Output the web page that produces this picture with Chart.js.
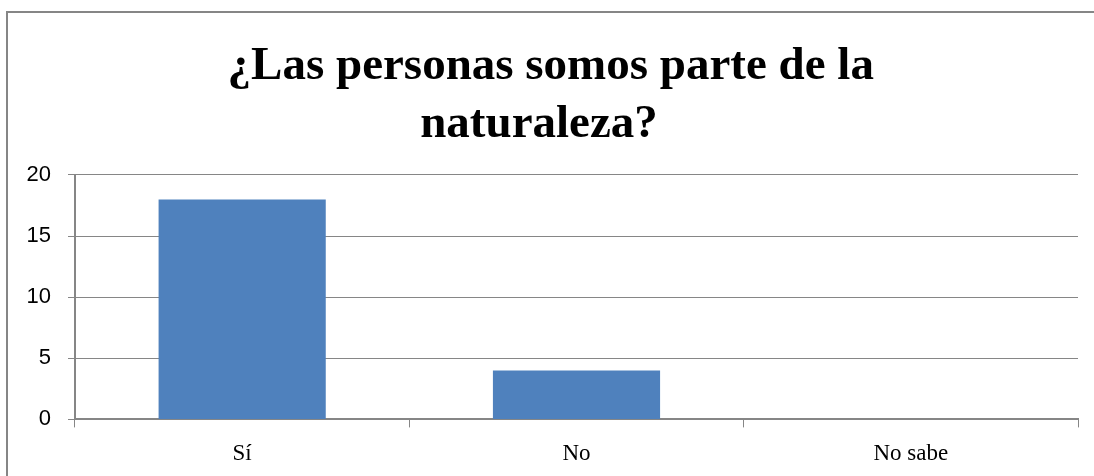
<!DOCTYPE html>
<html>
<head>
<meta charset="utf-8">
<script src="https://cdn.jsdelivr.net/npm/chart.js@4"></script>
<style>
  html, body { margin: 0; padding: 0; background: #fff; }
  #wrap { position: relative; width: 1094px; height: 476px; overflow: hidden; }
  #marco { position: absolute; left: 6px; top: 11px; width: 1200px; height: 600px;
           border-left: 2px solid #868686; border-top: 2px solid #868686; pointer-events: none; }
  canvas { position: absolute; left: 0; top: 0; }
</style>
</head>
<body>
<div id="wrap">
  <canvas id="grafico" width="1094" height="476"></canvas>
  <div id="marco"></div>
</div>
<script>
// datos del gráfico
const categorias = ['Sí', 'No', 'No sabe'];
const respuestas = [18, 4, 0];
// los espacios iniciales desplazan la primera línea como en el original
const tituloLineas = ['  ¿Las personas somos parte de la', 'naturaleza?'];

const ctx = document.getElementById('grafico').getContext('2d');

new Chart(ctx, {
    type: 'bar',
    data: {
        labels: categorias,
        datasets: [{
            data: respuestas,
            backgroundColor: '#4F81BD',
            borderWidth: 0,
            barPercentage: 1,
            categoryPercentage: 0.5
        }]
    },
    options: {
        responsive: false,
        animation: false,
        layout: { padding: { top: 38, right: 16, bottom: -5, left: 0 } },
        plugins: {
            legend: { display: false },
            tooltip: { enabled: false },
            title: {
                display: true,
                text: tituloLineas,
                color: '#000',
                font: { family: '"Liberation Serif", "Times New Roman", serif', size: 47, weight: 'bold', lineHeight: 1.234 },
                padding: { top: 0, bottom: 21 }
            }
        },
        scales: {
            x: {
                grid: { offset: true, drawOnChartArea: false, color: '#868686', tickLength: 8 },
                border: { color: '#868686', width: 2 },
                ticks: {
                    color: '#000',
                    padding: 13,
                    font: { family: '"Liberation Serif", "Times New Roman", serif', size: 23 }
                }
            },
            y: {
                min: 0,
                max: 20,
                ticks: {
                    stepSize: 5,
                    color: '#000',
                    padding: 17,
                    font: { family: '"Liberation Sans", Arial, sans-serif', size: 22 }
                },
                grid: { color: '#868686', tickLength: 7, lineWidth: 1 },
                border: { color: '#868686', width: 2 },
                afterFit: function (scale) { scale.width = 75; }
            }
        }
    }
});
</script>
</body>
</html>
